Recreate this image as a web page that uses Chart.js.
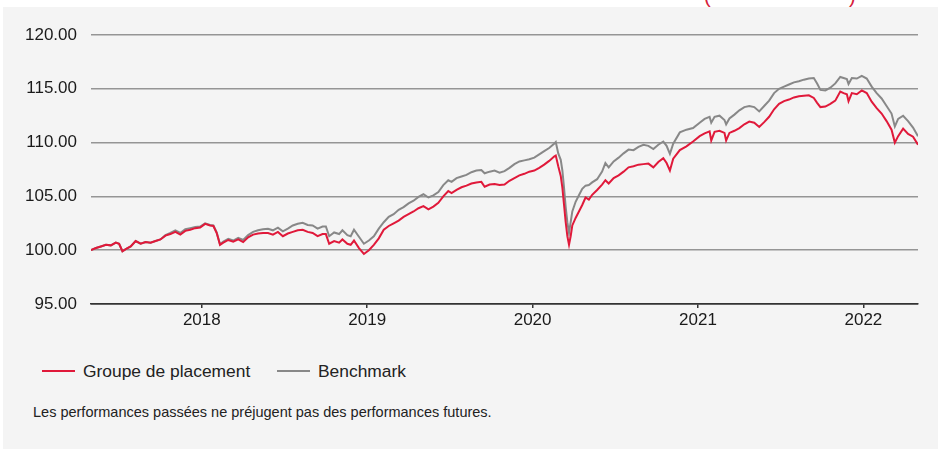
<!DOCTYPE html>
<html>
<head>
<meta charset="utf-8">
<script src="https://cdn.jsdelivr.net/npm/chart.js@4.4.1/dist/chart.umd.min.js"></script>
<style>
  html, body { margin: 0; padding: 0; background: #ffffff; width: 938px; height: 452px; overflow: hidden; font-family: "Liberation Sans", Arial, sans-serif; }
  #panel { position: absolute; left: 3px; top: 7px; width: 935px; height: 442px; background: #f4f4f4; }
  #wrap { position: absolute; left: 0; top: 0; width: 938px; height: 340px; }
  .paren { position: absolute; top: -15px; font-size: 20px; color: #d6203c; }
  .legline { position: absolute; height: 2px; width: 33px; top: 370px; }
  .legtxt { position: absolute; top: 361px; font-size: 17.4px; color: #222; line-height: 20px; }
  #note { position: absolute; left: 33px; top: 404px; font-size: 14.5px; color: #222; line-height: 16px; }
</style>
</head>
<body>
<div id="panel"></div>
<span class="paren" style="left:704px">(</span>
<span class="paren" style="left:849px">)</span>
<div id="wrap"><canvas id="c" width="938" height="340"></canvas></div>
<div class="legline" style="left:42px;background:#e0193a"></div>
<div class="legtxt" style="left:83px">Groupe de placement</div>
<div class="legline" style="left:277px;background:#888888"></div>
<div class="legtxt" style="left:318px">Benchmark</div>
<div id="note">Les performances passées ne préjugent pas des performances futures.</div>
<script>
const seriesNames = ["Groupe de placement", "Benchmark"];
const yTicks = [95, 100, 105, 110, 115, 120];
const xTickYears = [2018, 2019, 2020, 2021, 2022];

const dates = [
  2017.33, 2017.36, 2017.39, 2017.42, 2017.45, 2017.48, 2017.50, 2017.52, 2017.54, 2017.57, 2017.60, 2017.63, 2017.66, 2017.69, 2017.72, 2017.75, 2017.78, 2017.81, 2017.84, 2017.87, 2017.90, 2017.93, 2017.96, 2017.99,
  2018.02, 2018.05, 2018.07, 2018.09, 2018.11, 2018.13, 2018.16, 2018.19, 2018.22, 2018.25, 2018.28, 2018.31, 2018.34, 2018.37, 2018.40, 2018.43, 2018.46, 2018.49, 2018.52, 2018.55, 2018.58, 2018.61, 2018.64, 2018.67, 2018.70, 2018.73, 2018.75, 2018.77, 2018.80, 2018.83, 2018.85, 2018.88, 2018.90, 2018.92, 2018.95, 2018.98,
  2019.01, 2019.04, 2019.07, 2019.10, 2019.13, 2019.16, 2019.19, 2019.22, 2019.25, 2019.28, 2019.31, 2019.34, 2019.37, 2019.40, 2019.43, 2019.46, 2019.49, 2019.51, 2019.54, 2019.57, 2019.60, 2019.63, 2019.66, 2019.69, 2019.71, 2019.74, 2019.77, 2019.80, 2019.83, 2019.86, 2019.89, 2019.92, 2019.95, 2019.98,
  2020.01, 2020.04, 2020.07, 2020.10, 2020.13, 2020.14, 2020.155, 2020.17, 2020.18, 2020.19, 2020.20, 2020.21, 2020.22, 2020.23, 2020.24, 2020.26, 2020.28, 2020.30, 2020.32, 2020.34, 2020.36, 2020.39, 2020.42, 2020.44, 2020.46, 2020.49, 2020.52, 2020.55, 2020.58, 2020.61, 2020.64, 2020.67, 2020.70, 2020.73, 2020.76, 2020.79, 2020.81, 2020.83, 2020.85, 2020.89, 2020.93, 2020.97,
  2021.01, 2021.04, 2021.07, 2021.08, 2021.10, 2021.13, 2021.16, 2021.17, 2021.19, 2021.22, 2021.25, 2021.28, 2021.31, 2021.34, 2021.37, 2021.40, 2021.43, 2021.46, 2021.49, 2021.52, 2021.55, 2021.58, 2021.61, 2021.64, 2021.67, 2021.70, 2021.72, 2021.74, 2021.77, 2021.80, 2021.83, 2021.86, 2021.88, 2021.90, 2021.91, 2021.93, 2021.96, 2021.99,
  2022.02, 2022.05, 2022.08, 2022.11, 2022.14, 2022.17, 2022.19, 2022.21, 2022.24, 2022.27, 2022.30, 2022.33
];

const groupe = [
  100.0, 100.2, 100.35, 100.5, 100.45, 100.7, 100.6, 99.9, 100.1, 100.35, 100.85, 100.6, 100.75, 100.7, 100.85, 101.0, 101.35, 101.5, 101.7, 101.45, 101.8, 101.9, 102.05, 102.1,
  102.45, 102.3, 102.25, 101.6, 100.5, 100.7, 100.95, 100.8, 101.0, 100.75, 101.2, 101.45, 101.55, 101.6, 101.6, 101.45, 101.7, 101.3, 101.55, 101.7, 101.85, 101.9, 101.7, 101.6, 101.3, 101.5, 101.5, 100.6, 100.85, 100.7, 101.0, 100.6, 100.5, 100.9, 100.2, 99.65,
  100.0, 100.5, 101.1, 101.9, 102.25, 102.5, 102.75, 103.1, 103.35, 103.6, 103.9, 104.1, 103.8, 104.05, 104.4, 105.0, 105.5, 105.3, 105.6, 105.85, 106.0, 106.2, 106.3, 106.35, 105.9, 106.1, 106.15, 106.05, 106.1, 106.45, 106.7, 106.95, 107.1, 107.3,
  107.4, 107.65, 107.95, 108.3, 108.7, 108.8, 107.8, 106.9, 105.8, 104.2, 102.6, 101.3, 100.5, 101.3, 102.3, 103.0, 103.6, 104.2, 104.9, 104.7, 105.15, 105.6, 106.1, 106.5, 106.2, 106.7, 106.95, 107.3, 107.7, 107.8, 107.95, 108.0, 108.05, 107.7, 108.2, 108.55, 108.1, 107.4, 108.5, 109.3, 109.65, 110.1,
  110.6, 110.85, 111.05, 110.2, 111.0, 111.1, 110.9, 110.2, 110.9, 111.1, 111.35, 111.7, 111.95, 111.85, 111.45, 111.9, 112.4, 113.1, 113.6, 113.85, 114.0, 114.2, 114.3, 114.35, 114.4, 114.15, 113.7, 113.3, 113.35, 113.6, 113.9, 114.75, 114.6, 114.5, 113.85, 114.6, 114.5, 114.85,
  114.6, 113.8, 113.2, 112.7, 112.0, 111.2, 110.0, 110.6, 111.3, 110.8, 110.55, 109.8
];

const benchmark = [
  100.0, 100.2, 100.35, 100.5, 100.45, 100.7, 100.6, 99.9, 100.1, 100.35, 100.85, 100.6, 100.75, 100.7, 100.85, 101.0, 101.4, 101.6, 101.85, 101.6, 101.95, 102.05, 102.15, 102.2,
  102.5, 102.35, 102.3, 101.65, 100.55, 100.8, 101.05, 100.9, 101.15, 100.95, 101.4, 101.7, 101.85, 101.95, 102.0, 101.85, 102.1, 101.75, 102.0, 102.3, 102.45, 102.55, 102.35, 102.3, 102.0, 102.2, 102.2, 101.3, 101.65, 101.5, 101.85, 101.4, 101.3, 101.9, 101.25, 100.6,
  100.9, 101.3, 102.0, 102.6, 103.1, 103.35, 103.75, 104.0, 104.35, 104.6, 104.95, 105.2, 104.9, 105.1, 105.4, 106.05, 106.5, 106.35, 106.7, 106.85, 107.0, 107.25, 107.4, 107.45, 107.15, 107.3, 107.4, 107.2, 107.35, 107.65, 108.0, 108.25, 108.35, 108.45,
  108.6, 108.9, 109.2, 109.5, 109.9, 110.05, 109.0, 108.4, 107.4, 105.8, 104.0, 102.6, 101.6, 102.6, 103.6, 104.5, 105.1, 105.7, 106.0, 106.05, 106.3, 106.6, 107.3, 108.1, 107.7, 108.25, 108.6, 109.0, 109.35, 109.3, 109.6, 109.8, 109.7, 109.4, 109.8, 110.1, 109.7, 108.95, 109.9, 110.95, 111.2, 111.35,
  111.85, 112.2, 112.4, 111.85, 112.4, 112.5, 112.1, 111.7, 112.25, 112.6, 113.0, 113.3, 113.4, 113.3, 112.9, 113.4, 113.9, 114.6, 115.0, 115.2, 115.4, 115.6, 115.7, 115.85, 115.95, 116.0, 115.5, 114.9, 114.85, 115.1, 115.5, 116.1, 116.0, 115.9, 115.45, 116.0, 115.95, 116.2,
  115.95, 115.2, 114.6, 114.1, 113.4, 112.7, 111.5, 112.2, 112.5, 112.0, 111.4, 110.6
];

const toPoints = vals => vals.map((v, i) => ({ x: dates[i], y: v }));
const FONT = '"Liberation Sans", Arial, sans-serif';

new Chart(document.getElementById('c'), {
  type: 'line',
  data: {
    datasets: [
      { label: seriesNames[0], data: toPoints(groupe), borderColor: '#e0193a', borderWidth: 2, pointRadius: 0, tension: 0, fill: false },
      { label: seriesNames[1], data: toPoints(benchmark), borderColor: '#888888', borderWidth: 2, pointRadius: 0, tension: 0, fill: false }
    ]
  },
  options: {
    responsive: false,
    animation: false,
    devicePixelRatio: 1,
    layout: { padding: { top: 35, right: 20, left: 0, bottom: 0 } },
    plugins: { legend: { display: false }, tooltip: { enabled: false } },
    scales: {
      x: {
        type: 'linear',
        min: dates[0],
        max: dates[dates.length - 1],
        afterBuildTicks: s => { s.ticks = xTickYears.map(v => ({ value: v })); },
        afterFit: s => { s.height = 36; },
        ticks: { callback: v => String(v), font: { family: FONT, size: 17 }, color: '#1a1a1a', padding: 2, maxRotation: 0, autoSkip: false },
        grid: { drawOnChartArea: false, drawTicks: true, tickLength: 4, color: '#333333', lineWidth: 1.5 },
        border: { display: true, color: '#333333', width: 1.5 }
      },
      y: {
        min: 95,
        max: 120,
        afterBuildTicks: s => { s.ticks = yTicks.map(v => ({ value: v })); },
        afterFit: s => { s.width = 91; },
        ticks: { callback: v => Number(v).toFixed(2), font: { family: FONT, size: 17 }, color: '#1a1a1a', padding: 14 },
        grid: { drawTicks: false, color: c => (c.tick && c.tick.value === 95) ? '#333333' : '#959595', lineWidth: 1.5 },
        border: { display: false }
      }
    }
  }
});
</script>
</body>
</html>
